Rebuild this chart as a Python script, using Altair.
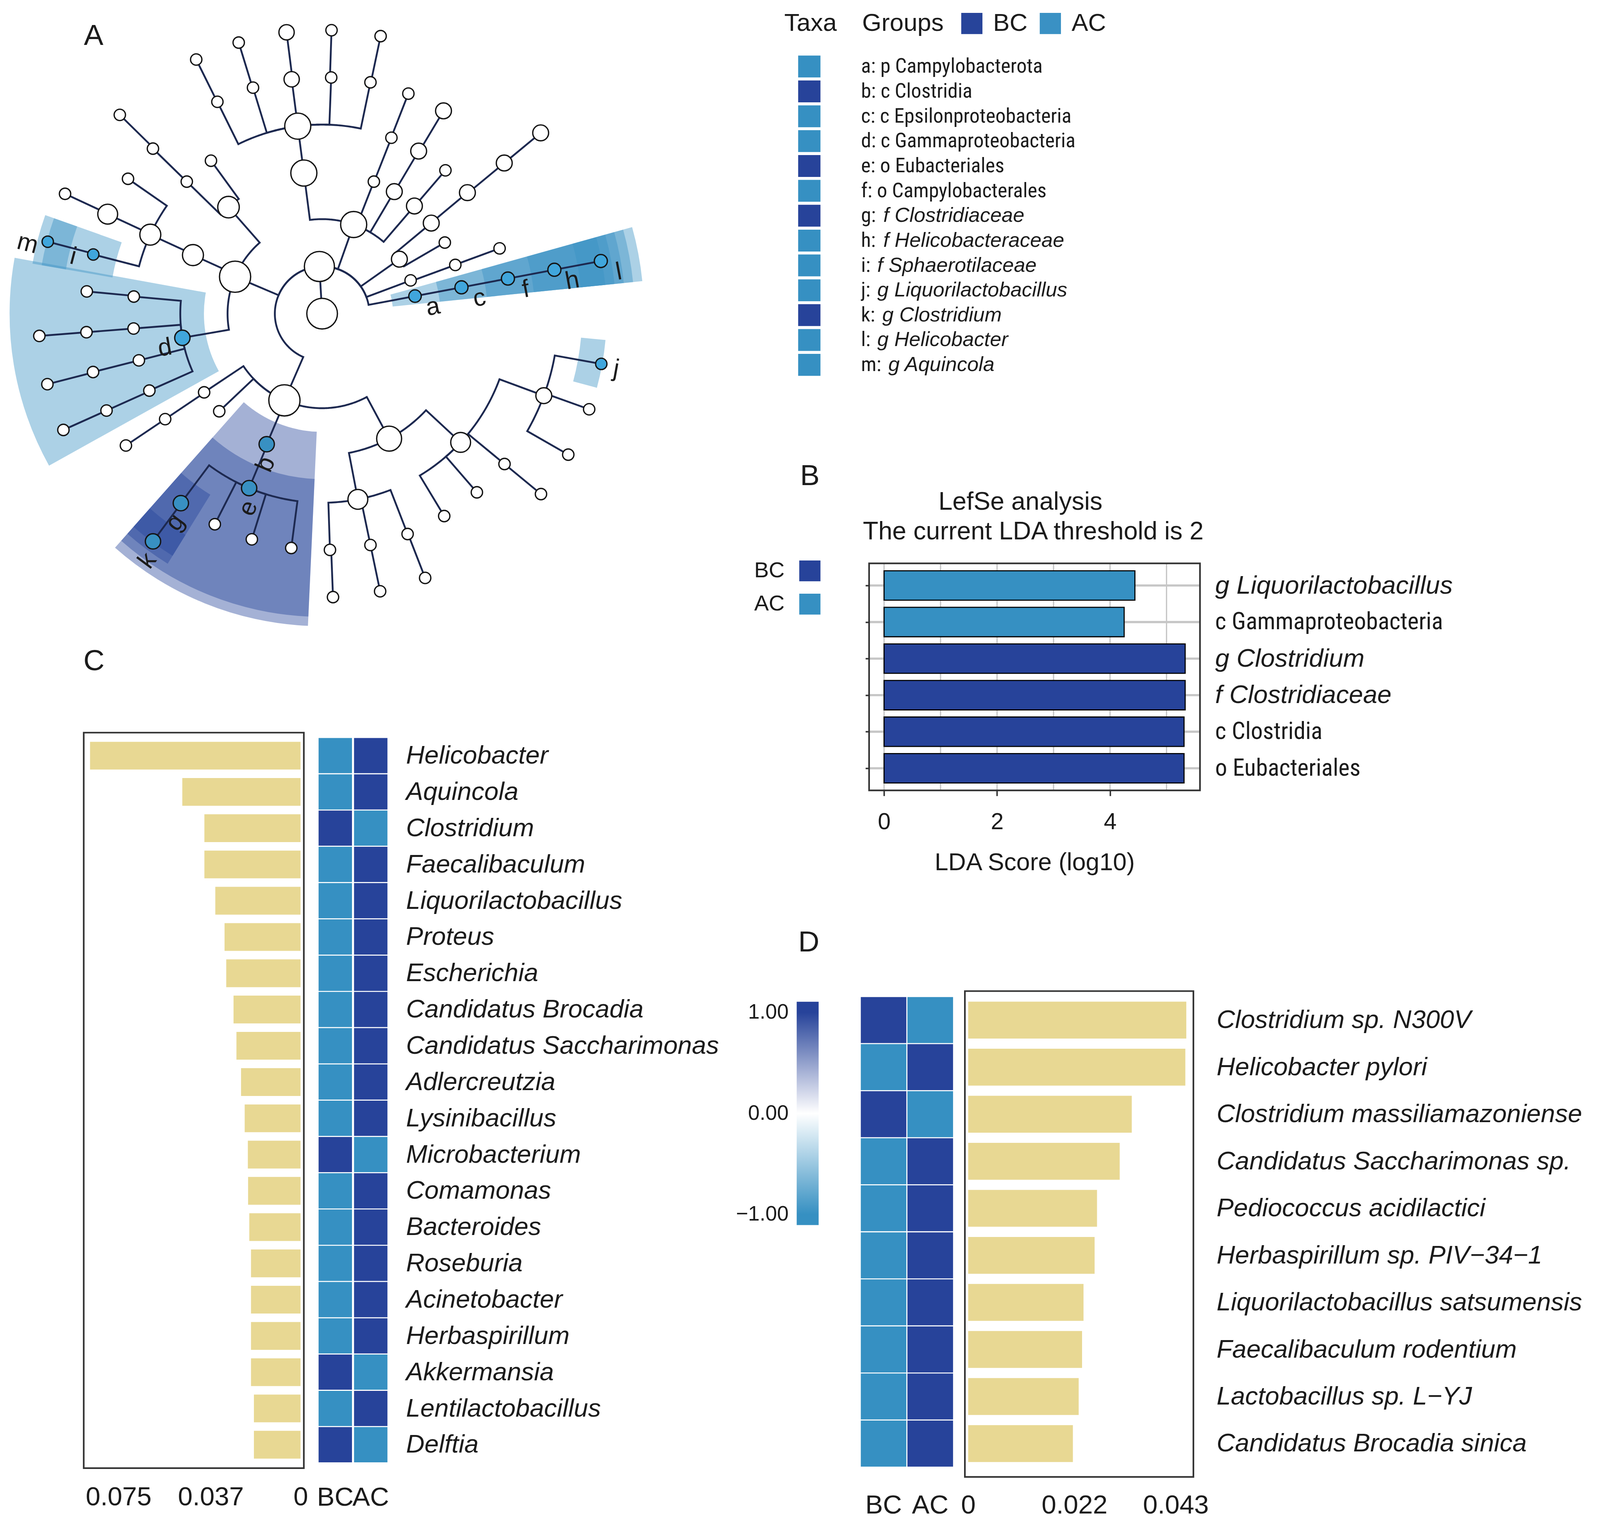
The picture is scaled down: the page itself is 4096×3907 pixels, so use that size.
import json
import math
import pandas as pd
import altair as alt

# ============================== DATA ==============================
# Panel A - cladogram. Parents precede children; angle in degrees (counter-clockwise from east).
node_id = ["root", "k1", "pA", "pProt", "pFirm", "p35", "p20", "a",
           "cA1", "cA2", "cA3", "cA4", "cP1", "cP2", "d", "cF1", "cF2", "b", "cF4", "c35a", "c35b", "c20", "c",
           "oA1", "oA2", "oA3", "oA4", "oP1a", "oP1b", "oP2", "oD1", "oD2", "oD3", "oD4", "oF1", "e", "oF4a", "oF4b",
           "o35", "o20", "f",
           "fA1a", "fA1b", "fA1c", "fA1d", "fA1e", "fA2", "fA3", "fP1", "fP2a", "fP2b", "i", "fD1", "fD2", "fD3",
           "fD4", "fF1", "g", "fE2", "fE3", "fE4", "fF4a1", "fF4a2", "fF4a3", "fF4b1", "fF4b2", "fF4b3", "fF4b4",
           "f35", "h",
           "gA1a", "gA1b", "gA1c", "gA1d", "gA1e", "gP1", "gP2b", "m", "gD2", "gD3", "gD4", "k", "gF4a1", "gF4a2",
           "gF4a3", "gF4b3", "gF4b4a", "gF4b4b", "j", "g35", "l"]
node_parent = ["", "root", "k1", "k1", "k1", "k1", "k1", "k1",
               "pA", "pA", "pA", "pA", "pProt", "pProt", "pProt", "pFirm", "pFirm", "pFirm", "pFirm", "p35", "p35",
               "p20", "a",
               "cA1", "cA2", "cA3", "cA4", "cP1", "cP1", "cP2", "d", "d", "d", "d", "cF1", "b", "cF4", "cF4",
               "c35b", "c20", "c",
               "oA1", "oA1", "oA1", "oA1", "oA1", "oA2", "oA3", "oP1b", "oP2", "oP2", "oP2", "oD1", "oD2", "oD3",
               "oD4", "oF1", "e", "e", "e", "e", "oF4a", "oF4a", "oF4a", "oF4b", "oF4b", "oF4b", "oF4b",
               "o35", "f",
               "fA1a", "fA1b", "fA1c", "fA1d", "fA1e", "fP1", "fP2b", "i", "fD2", "fD3", "fD4", "g", "fF4a1",
               "fF4a2", "fF4a3", "fF4b3", "fF4b4", "fF4b4", "fF4b4", "f35", "h"]
node_angle = [93.3, 93.3, 70.5, 157.0, 246.5, 35.2, 20.6, 10.7,
              97.4, 68.6, 59.4, 49.4, 131.3, 155.6, 189.8, 213.7, 223.5, 247.0, 298.2, 30.1, 39.7, 20.1, 10.7,
              97.4, 68.5, 59.3, 49.3, 126.0, 135.7, 155.3, 174.8, 184.5, 194.3, 204.0, 213.9, 247.3, 280.9, 317.1,
              39.8, 20.2, 10.7,
              78.2, 87.8, 97.4, 107.0, 116.3, 68.6, 59.1, 135.7, 145.2, 155.1, 165.5, 174.6, 184.5, 194.3,
              204.2, 213.9, 233.3, 243.0, 252.7, 262.5, 271.9, 281.8, 291.2, 301.1, 310.9, 320.5, 339.7,
              39.6, 10.7,
              78.1, 88.1, 97.2, 107.1, 116.35, 135.5, 155.0, 165.3, 184.5, 194.4, 204.2, 233.4, 272.2, 281.8,
              291.3, 320.5, 330.2, 340.3, 349.8, 39.6, 10.7]
node_abund = [2.7, 2.65, 2.3, 2.75, 2.75, 1.4, 1.0, 1.1,
              2.3, 1.0, 1.4, 1.4, 1.9, 1.85, 1.35, 1.0, 1.0, 1.35, 2.2, 1.0, 1.4, 1.0, 1.15,
              2.3, 1.0, 1.4, 1.0, 1.0, 1.0, 1.85, 1.0, 1.0, 1.0, 1.0, 1.0, 1.35, 1.75, 1.75, 1.4, 1.0, 1.15,
              1.0, 1.0, 1.35, 1.0, 1.0, 1.0, 1.4, 1.0, 1.0, 1.75, 1.0, 1.0, 1.0, 1.0, 1.0, 1.0, 1.35, 1.0, 1.0,
              1.0, 1.0, 1.0, 1.0, 1.0, 1.0, 1.0, 1.4, 1.4, 1.15,
              1.0, 1.0, 1.35, 1.0, 1.0, 1.0, 1.0, 1.0, 1.0, 1.0, 1.0, 1.35, 1.0, 1.0, 1.0, 1.0, 1.0, 1.0, 1.0,
              1.4, 1.15]

taxa_code = ["a", "b", "c", "d", "e", "f", "g", "h", "i", "j", "k", "l", "m"]
taxa_rank = ["p", "c", "c", "c", "o", "o", "f", "f", "f", "g", "g", "g", "g"]
taxa_name = ["Campylobacterota", "Clostridia", "Epsilonproteobacteria", "Gammaproteobacteria", "Eubacteriales",
             "Campylobacterales", "Clostridiaceae", "Helicobacteraceae", "Sphaerotilaceae", "Liquorilactobacillus",
             "Clostridium", "Helicobacter", "Aquincola"]
taxa_group = ["AC", "BC", "AC", "AC", "BC", "AC", "BC", "AC", "AC", "AC", "BC", "AC", "AC"]

# Panel B - LEfSe
lda_taxon = ["g Liquorilactobacillus", "c Gammaproteobacteria", "g Clostridium", "f Clostridiaceae",
             "c Clostridia", "o Eubacteriales"]
lda_group = ["AC", "AC", "BC", "BC", "BC", "BC"]
lda_score = [4.44, 4.25, 5.33, 5.33, 5.31, 5.31]
lda_ticks = [0, 2, 4]
lda_grid = [0, 1, 2, 3, 4, 5]

# Panel C - genus importance + z-score heatmap
genus_name = ["Helicobacter", "Aquincola", "Clostridium", "Faecalibaculum", "Liquorilactobacillus", "Proteus",
              "Escherichia", "Candidatus Brocadia", "Candidatus Saccharimonas", "Adlercreutzia", "Lysinibacillus",
              "Microbacterium", "Comamonas", "Bacteroides", "Roseburia", "Acinetobacter", "Herbaspirillum",
              "Akkermansia", "Lentilactobacillus", "Delftia"]
genus_importance = [0.0867, 0.0487, 0.0396, 0.0396, 0.0351, 0.0313, 0.0306, 0.0276, 0.0264, 0.0245, 0.0230,
                    0.0217, 0.0216, 0.0211, 0.0204, 0.0204, 0.0204, 0.0204, 0.0192, 0.0192]
genus_bc = [-1, -1, 1, -1, -1, -1, -1, -1, -1, -1, -1, 1, -1, -1, -1, -1, -1, 1, -1, 1]
genus_ac = [1, 1, -1, 1, 1, 1, 1, 1, 1, 1, 1, -1, 1, 1, 1, 1, 1, -1, 1, -1]
genus_ticks = [0.075, 0.037, 0]

# Panel D - species importance + z-score heatmap
species_name = ["Clostridium sp. N300V", "Helicobacter pylori", "Clostridium massiliamazoniense",
                "Candidatus Saccharimonas sp.", "Pediococcus acidilactici", "Herbaspirillum sp. PIV\u221234\u22121",
                "Liquorilactobacillus satsumensis", "Faecalibaculum rodentium", "Lactobacillus sp. L\u2212YJ",
                "Candidatus Brocadia sinica"]
species_importance = [0.0452, 0.0450, 0.0339, 0.0314, 0.0267, 0.0262, 0.0239, 0.0236, 0.0229, 0.0217]
species_bc = [1, -1, 1, -1, -1, -1, -1, -1, -1, -1]
species_ac = [-1, 1, -1, 1, 1, 1, 1, 1, 1, 1]
species_ticks = [0, 0.022, 0.043]
zscore_ticks = [-1, 0, 1]

# ============================== STYLE / LAYOUT ==============================
S = 0.936          # drawing scale versus the reference
OFF = 8.0          # page margin
W, H = 4080, 3890


def P(v):
    return v * S - OFF


FN = "Liberation Sans, Arial, Helvetica, sans-serif"
FN_N = "Roboto Condensed, Liberation Sans Narrow, Arial Narrow, Liberation Sans, sans-serif"
TXT = "#1b1b1b"
DARK = "#27439A"
LIGHT = "#3690C2"
SEC_BC = "#27449A"
SEC_AC = "#3A91C4"
HL_BC = "#3890C2"
HL_AC = "#40A6DC"
BAR = "#E8D893"
EDGE = "#1d2950"
BOX = "#333333"
GRID = "#c6c6c6"

units = []

# ============================== PANEL A ==============================
U = 129.3
CX, CY = 881.0, 858.0
pos = {n: ix for ix, n in enumerate(node_id)}
level = {}
children = {n: [] for n in node_id}
for n, p in zip(node_id, node_parent):
    level[n] = 0 if p == "" else level[p] + 1
    if p:
        children[p].append(n)


def leaves(n):
    if not children[n]:
        return [n]
    out = []
    for ch in children[n]:
        out += leaves(ch)
    return out


code_group = dict(zip(taxa_code, taxa_group))

erows = []
for n, p in zip(node_id, node_parent):
    if p == "":
        continue
    lp, ap = level[p], node_angle[pos[p]]
    lc, ac = level[n], node_angle[pos[n]]
    k = max(2, int(abs(ac - ap) / 0.5) + 2)
    o = 0
    for s in range(k):
        t = math.radians(ap + (ac - ap) * s / (k - 1))
        erows.append({"eid": n, "o": o, "x": lp * math.cos(t), "y": lp * math.sin(t)})
        o += 1
    t = math.radians(ac)
    erows.append({"eid": n, "o": o, "x": lc * math.cos(t), "y": lc * math.sin(t)})
edge_df = pd.DataFrame(erows)

nrows = []
for n in node_id:
    t = math.radians(node_angle[pos[n]])
    L = level[n]
    nrows.append({"id": n, "x": L * math.cos(t), "y": L * math.sin(t), "abund": node_abund[pos[n]],
                  "kind": code_group.get(n, "none")})
node_df = pd.DataFrame(nrows)

HALF = 4.9
srows, lrows = [], []
for code in taxa_code:
    L = level[code]
    angs = [node_angle[pos[x]] for x in leaves(code)]
    a0, a1 = min(angs) - HALF, max(angs) + HALF
    t0, t1 = 90 - a1, 90 - a0
    if t0 < 0:
        t0 += 360
        t1 += 360
    srows.append({"code": code, "grp": code_group[code], "t0": t0, "t1": t1,
                  "r_in": L - 0.5, "r_out": 6.02 + (6 - L) * 0.197, "cx": 0.0, "cy": 0.0})
    th = node_angle[pos[code]]
    r = math.radians(th)
    ux, uy = math.cos(r), math.sin(r)
    if ux > 0:
        tang = 0.3 if len(leaves(code)) == 1 and th < 90 else 0.05
        tx, ty, rr, ang = math.sin(r), -math.cos(r), L + 0.33, (360 - th) % 360
    else:
        tx, ty, tang, rr, ang = -math.sin(r), math.cos(r), 0.15, L + 0.4, (180 - th) % 360
    lrows.append({"code": code, "x": rr * ux + tang * tx, "y": rr * uy + tang * ty, "ang": ang})
sec_df = pd.DataFrame(srows)
lab_df = pd.DataFrame(lrows)


def txs():
    return alt.Scale(domain=[-7, 7], range=[P(CX - 7 * U), P(CX + 7 * U)], nice=False, zero=False)


def tys():
    return alt.Scale(domain=[-7, 7], range=[P(CY + 7 * U), P(CY - 7 * U)], nice=False, zero=False)


units.append(alt.Chart(sec_df).mark_arc(opacity=0.42).encode(
    x=alt.X("cx:Q", scale=txs(), axis=None),
    y=alt.Y("cy:Q", scale=tys(), axis=None),
    theta=alt.Theta("t0:Q", scale=alt.Scale(domain=[0, 360], range=[0, 2 * math.pi])),
    theta2="t1:Q",
    radius=alt.Radius("r_out:Q", scale=alt.Scale(type="linear", domain=[0, 7], range=[0, 7 * U * S], zero=True)),
    radius2="r_in:Q",
    color=alt.Color("grp:N", scale=alt.Scale(domain=["BC", "AC"], range=[SEC_BC, SEC_AC]),
                    legend=alt.Legend(title=None, orient="none", legendX=P(2624), legendY=P(30),
                                      direction="horizontal", symbolType="square", symbolSize=(58 * S) ** 2,
                                      symbolStrokeWidth=0, symbolOpacity=1, labelFont=FN, labelFontSize=68 * S,
                                      labelColor=TXT, labelOffset=24 * S, columnPadding=26, padding=0)),
))
units.append(alt.Chart(edge_df).mark_line(color=EDGE, strokeWidth=5.0 * S, strokeJoin="miter").encode(
    x=alt.X("x:Q", scale=txs(), axis=None),
    y=alt.Y("y:Q", scale=tys(), axis=None),
    detail="eid:N",
    order="o:Q",
))
units.append(alt.Chart(node_df).mark_circle(stroke="#141414", strokeWidth=3.6 * S, opacity=1).encode(
    x=alt.X("x:Q", scale=txs(), axis=None),
    y=alt.Y("y:Q", scale=tys(), axis=None),
    size=alt.Size("abund:Q", scale=alt.Scale(type="pow", exponent=2, domain=[0, 3],
                                             range=[0, (3 * 2 * 15.5 * S) ** 2]), legend=None),
    fill=alt.Fill("kind:N", scale=alt.Scale(domain=["none", "AC", "BC"], range=["white", HL_AC, HL_BC]),
                  legend=None),
))
units.append(alt.Chart(lab_df).mark_text(font=FN, fontSize=68 * S, color=TXT, align="center",
                                         baseline="middle").encode(
    x=alt.X("x:Q", scale=txs(), axis=None),
    y=alt.Y("y:Q", scale=tys(), axis=None),
    text="code:N",
    angle=alt.Angle("ang:Q", scale=None),
))


# ============================== REFERENCE-FRAME SCALES (legends / annotations) ==============================
def rxs():
    return alt.Scale(domain=[0, 4375], range=[P(0), P(4375)], nice=False, zero=False)


def rys():
    return alt.Scale(domain=[0, 4173], range=[P(0), P(4173)], nice=False, zero=False)


# ============================== TAXA LEGEND ==============================
ADV = {"a": 0.556, "b": 0.556, "c": 0.5, "d": 0.556, "e": 0.556, "f": 0.278, "g": 0.556, "h": 0.556,
       "i": 0.222, "j": 0.222, "k": 0.5, "l": 0.222, "m": 0.833}
TAXA_FS = 56
NF = 0.88
trows = []
for c, rk, nm, gp in zip(taxa_code, taxa_rank, taxa_name, taxa_group):
    ital = rk in ("f", "g")
    trows.append({"code": c, "grp": gp, "sx0": 2183, "sx1": 2244, "tx0": 2355,
                  "tx1": 2355 + (ADV[c] + 0.556) * NF * TAXA_FS + 6,
                  "plain": (c + ":") if ital else f"{c}: {rk} {nm}",
                  "ital": f"{rk} {nm}" if ital else "", "is_it": ital})
taxa_df = pd.DataFrame(trows)


def tby():
    return alt.Scale(domain=taxa_code, range=[P(148), P(148 + 13 * 68)], paddingInner=0.12, paddingOuter=0.06)


units.append(alt.Chart(taxa_df).mark_rect().encode(
    x=alt.X("sx0:Q", scale=rxs(), axis=None), x2="sx1:Q",
    y=alt.Y("code:N", scale=tby(), axis=None),
    color=alt.Color("grp:N", scale=alt.Scale(domain=["BC", "AC"], range=[DARK, LIGHT]), legend=None),
))
units.append(alt.Chart(taxa_df).mark_text(font=FN_N, fontSize=TAXA_FS * S, color=TXT, align="left",
                                          baseline="middle").encode(
    x=alt.X("tx0:Q", scale=rxs(), axis=None), y=alt.Y("code:N", scale=tby(), axis=None), text="plain:N"))
units.append(alt.Chart(taxa_df[taxa_df["is_it"]]).mark_text(font=FN, fontStyle="italic", fontSize=TAXA_FS * S,
                                                         color=TXT, align="left", baseline="middle").encode(
    x=alt.X("tx1:Q", scale=rxs(), axis=None), y=alt.Y("code:N", scale=tby(), axis=None), text="ital:N"))


# ============================== ANNOTATIONS ==============================
def ann_text(df, **kw):
    return alt.Chart(df).mark_text(color=TXT, **kw).encode(
        x=alt.X("x:Q", scale=rxs(), axis=None), y=alt.Y("y:Q", scale=rys(), axis=None), text="t:N")


letters = pd.DataFrame({"t": ["A", "B", "C", "D"], "x": [256, 2215, 257, 2212], "y": [123, 1327, 1833, 2603]})
titles = pd.DataFrame({"t": ["LefSe analysis", "The current LDA threshold is 2"], "x": [2791, 2826],
                       "y": [1394, 1475]})
headers = pd.DataFrame({"t": ["Taxa", "Groups"], "x": [2145, 2358], "y": [84.5, 84.5]})
bleg_t = pd.DataFrame({"t": ["BC", "AC"], "x": [2146, 2146], "y": [1561, 1652]})
bleg_s = pd.DataFrame({"g": ["BC", "AC"], "x0": [2186, 2186], "x1": [2244, 2244], "y0": [1533, 1624],
                       "y1": [1590, 1681]})
units.append(ann_text(letters, font=FN, fontSize=80 * S, align="center", baseline="alphabetic"))
units.append(ann_text(titles, font=FN, fontSize=69 * S, align="center", baseline="alphabetic"))
units.append(ann_text(headers, font=FN, fontSize=68 * S, align="left", baseline="alphabetic"))
units.append(ann_text(bleg_t, font=FN, fontSize=60 * S, align="right", baseline="middle"))
units.append(alt.Chart(bleg_s).mark_rect().encode(
    x=alt.X("x0:Q", scale=rxs(), axis=None), x2="x1:Q",
    y=alt.Y("y0:Q", scale=rys(), axis=None), y2="y1:Q",
    color=alt.Color("g:N", scale=alt.Scale(domain=["BC", "AC"], range=[DARK, LIGHT]), legend=None)))

# ============================== PANEL B ==============================
B_XL, B_XR = -0.265, 5.592
B_YT, B_YB = -0.605, 5.605


def bxs():
    return alt.Scale(domain=[B_XL, B_XR], range=[P(2377), P(3282)], nice=False, zero=False)


def bys():
    return alt.Scale(domain=[B_YT, B_YB], range=[P(1541), P(2162)], nice=False, zero=False)


lda_df = pd.DataFrame({"i": list(range(len(lda_taxon))), "taxon": lda_taxon, "grp": lda_group,
                       "score": lda_score})
lda_df["y0"] = lda_df["i"] - 0.4025
lda_df["y1"] = lda_df["i"] + 0.4025
lda_df["x0"] = 0.0
vg_df = pd.DataFrame({"v": lda_grid, "ya": B_YT, "yb": B_YB})
hg_df = pd.DataFrame({"i": list(range(len(lda_taxon))), "xa": B_XL, "xb": B_XR})
bbox_df = pd.DataFrame({"xa": [B_XL], "xb": [B_XR], "ya": [B_YT], "yb": [B_YB]})
lda_ital = [ix for ix, t in enumerate(lda_taxon) if t.split(" ")[0] in ("f", "g")]
ital_test = "indexof(%s, datum.value) >= 0" % json.dumps(lda_ital)

units.append(alt.Chart(vg_df).mark_rule(color=GRID, strokeWidth=3.5 * S).encode(
    x=alt.X("v:Q", scale=bxs(), axis=None), y=alt.Y("ya:Q", scale=bys(), axis=None), y2="yb:Q"))
units.append(alt.Chart(hg_df).mark_rule(color=GRID, strokeWidth=6 * S).encode(
    y=alt.Y("i:Q", scale=bys(), axis=None), x=alt.X("xa:Q", scale=bxs(), axis=None), x2="xb:Q"))
units.append(alt.Chart(lda_df).mark_rect(stroke="black", strokeWidth=3 * S).encode(
    x=alt.X("x0:Q", scale=bxs(),
            axis=alt.Axis(orient="bottom", offset=P(2162) - H, values=lda_ticks, title="LDA Score (log10)",
                          grid=False, domain=False, ticks=True, tickSize=15 * S, tickWidth=4 * S,
                          tickColor=BOX, labelFont=FN, labelFontSize=63 * S, labelColor=TXT, labelPadding=38,
                          labelFlush=False, labelOverlap=False, titleFont=FN, titleFontSize=67 * S,
                          titleFontWeight="normal", titleColor=TXT, titleY=(2380 - 2162) * S,
                          titleBaseline="alphabetic")),
    x2="score:Q",
    y=alt.Y("y0:Q", scale=bys(),
            axis=alt.Axis(orient="left", offset=-P(2377), values=list(range(len(lda_taxon))), labels=False,
                          ticks=True, tickSize=10 * S, tickWidth=4 * S, tickColor=BOX, domain=False,
                          grid=False, title=None)),
    y2="y1:Q",
    color=alt.Color("grp:N", scale=alt.Scale(domain=["BC", "AC"], range=[DARK, LIGHT]), legend=None),
))
units.append(alt.Chart(bbox_df).mark_rect(fillOpacity=0, stroke=BOX, strokeWidth=4.5 * S).encode(
    x=alt.X("xa:Q", scale=bxs(), axis=None), x2="xb:Q",
    y=alt.Y("ya:Q", scale=bys(),
            axis=alt.Axis(orient="right", offset=P(3282) - W, values=list(range(len(lda_taxon))),
                          labelExpr="%s[datum.value]" % json.dumps(lda_taxon, ensure_ascii=False),
                          ticks=False, tickSize=0, domain=False, grid=False, title=None, labelPadding=41 * S,
                          labelColor=TXT, labelAlign="left", labelLimit=3000, labelOverlap=False,
                          labelFontSize={"condition": {"test": ital_test, "value": 70 * S}, "value": 65.5 * S},
                          labelFont={"condition": {"test": ital_test, "value": FN}, "value": FN_N},
                          labelFontStyle={"condition": {"test": ital_test, "value": "italic"},
                                          "value": "normal"})),
    y2="yb:Q",
))

# ============================== PANEL C ==============================
C_XL, C_XR = 0.0893, -0.00136
C_YT, C_YB = -0.635, 19.647


def cbx():
    return alt.Scale(domain=[C_XR, C_XL], range=[P(229), P(831)], reverse=True, nice=False, zero=False)


def cys():
    return alt.Scale(domain=[C_YT, C_YB], range=[P(2004), P(4016)], nice=False, zero=False)


cb_df = pd.DataFrame({"i": list(range(len(genus_name))), "imp": genus_importance})
cb_df["y0"] = cb_df["i"] - 0.383
cb_df["y1"] = cb_df["i"] + 0.383
cb_df["zero"] = 0.0
ch_df = pd.DataFrame({"i": list(range(len(genus_name))) * 2,
                      "col": ["BC"] * len(genus_name) + ["AC"] * len(genus_name),
                      "z": genus_bc + genus_ac})
ch_df["y0"] = ch_df["i"] - 0.5
ch_df["y1"] = ch_df["i"] + 0.5
cbox_df = pd.DataFrame({"xa": [C_XL], "xb": [C_XR], "ya": [C_YT], "yb": [C_YB]})
zexpr = "datum.value == 0 ? '0' : format(datum.value, '.3f')"

units.append(alt.Chart(cb_df).mark_rect(color=BAR).encode(
    x=alt.X("imp:Q", scale=cbx(),
            axis=alt.Axis(orient="bottom", offset=P(4016) - H, values=genus_ticks, labelExpr=zexpr,
                          ticks=False, tickSize=0, domain=False, grid=False, title=None, labelFont=FN,
                          labelFontSize=72 * S, labelColor=TXT, labelPadding=42, labelFlush=False,
                          labelOverlap=False)),
    x2="zero:Q",
    y=alt.Y("y0:Q", scale=cys(), axis=None), y2="y1:Q",
))
units.append(alt.Chart(cbox_df).mark_rect(fillOpacity=0, stroke=BOX, strokeWidth=4.5 * S).encode(
    x=alt.X("xa:Q", scale=cbx(), axis=None), x2="xb:Q",
    y=alt.Y("ya:Q", scale=cys(), axis=None), y2="yb:Q"))
units.append(alt.Chart(ch_df).mark_rect(stroke="white", strokeWidth=2.7 * S).encode(
    x=alt.X("col:N", scale=alt.Scale(domain=["BC", "AC"], range=[P(870), P(1061)], paddingInner=0.03,
                                     paddingOuter=0),
            axis=alt.Axis(orient="bottom", offset=P(4000) - H, ticks=False, tickSize=0, domain=False,
                          grid=False, title=None, labelAngle=0, labelFont=FN, labelFontSize=72 * S,
                          labelColor=TXT, labelPadding=57)),
    y=alt.Y("y0:Q", scale=cys(),
            axis=alt.Axis(orient="right", offset=P(1061) - W, values=list(range(len(genus_name))),
                          labelExpr="%s[datum.value]" % json.dumps(genus_name, ensure_ascii=False),
                          ticks=False, tickSize=0, domain=False, grid=False, title=None,
                          labelPadding=49 * S, labelFont=FN, labelFontStyle="italic", labelFontSize=70 * S,
                          labelColor=TXT, labelAlign="left", labelLimit=3000, labelOverlap=False)),
    y2="y1:Q",
    color=alt.Color("z:Q", scale=alt.Scale(domain=[-1, 0, 1], range=[LIGHT, "white", DARK], interpolate="rgb"),
                    legend=None),
))

# ============================== PANEL D ==============================
D_XL, D_XR = -0.00068, 0.04667
D_YT, D_YB = -0.617, 9.71
Z_LO, Z_HI = -1.107, 1.107


def dbx():
    return alt.Scale(domain=[D_XL, D_XR], range=[P(2639), P(3264)], nice=False, zero=False)


def dys():
    return alt.Scale(domain=[D_YT, D_YB], range=[P(2711), P(4040)], nice=False, zero=False)


db_df = pd.DataFrame({"i": list(range(len(species_name))), "imp": species_importance})
db_df["y0"] = db_df["i"] - 0.392
db_df["y1"] = db_df["i"] + 0.392
db_df["zero"] = 0.0
dh_df = pd.DataFrame({"i": list(range(len(species_name))) * 2,
                      "col": ["BC"] * len(species_name) + ["AC"] * len(species_name),
                      "z": species_bc + species_ac})
dh_df["y0"] = dh_df["i"] - 0.5
dh_df["y1"] = dh_df["i"] + 0.5
dbox_df = pd.DataFrame({"xa": [D_XL], "xb": [D_XR], "ya": [D_YT], "yb": [D_YB]})
zl_df = pd.DataFrame({"z": zscore_ticks, "x": 2157,
                      "t": [("%.2f" % v).replace("-", "\u2212") for v in zscore_ticks]})

units.append(alt.Chart(db_df).mark_rect(color=BAR).encode(
    x=alt.X("zero:Q", scale=dbx(),
            axis=alt.Axis(orient="bottom", offset=P(4040) - H, values=species_ticks, labelExpr=zexpr,
                          ticks=False, tickSize=0, domain=False, grid=False, title=None, labelFont=FN,
                          labelFontSize=72 * S, labelColor=TXT, labelPadding=40, labelFlush=False,
                          labelOverlap=False)),
    x2="imp:Q",
    y=alt.Y("y0:Q", scale=dys(), axis=None), y2="y1:Q",
))
units.append(alt.Chart(dbox_df).mark_rect(fillOpacity=0, stroke=BOX, strokeWidth=4.5 * S).encode(
    x=alt.X("xa:Q", scale=dbx(), axis=None), x2="xb:Q",
    y=alt.Y("ya:Q", scale=dys(),
            axis=alt.Axis(orient="right", offset=P(3264) - W, values=list(range(len(species_name))),
                          labelExpr="%s[datum.value]" % json.dumps(species_name, ensure_ascii=False),
                          ticks=False, tickSize=0, domain=False, grid=False, title=None,
                          labelPadding=63 * S, labelFont=FN, labelFontStyle="italic", labelFontSize=70 * S,
                          labelColor=TXT, labelAlign="left", labelLimit=3000, labelOverlap=False)),
    y2="yb:Q"))
units.append(alt.Chart(dh_df).mark_rect(stroke="white", strokeWidth=2.7 * S).encode(
    x=alt.X("col:N", scale=alt.Scale(domain=["BC", "AC"], range=[P(2353), P(2608)], paddingInner=0.0,
                                     paddingOuter=0),
            axis=alt.Axis(orient="bottom", offset=P(4013) - H, ticks=False, tickSize=0, domain=False,
                          grid=False, title=None, labelAngle=0, labelFont=FN, labelFontSize=72 * S,
                          labelColor=TXT, labelPadding=65)),
    y=alt.Y("y0:Q", scale=dys(), axis=None),
    y2="y1:Q",
    color=alt.Color("z:Q",
                    scale=alt.Scale(domain=[Z_LO, -1, 0, 1, Z_HI], range=[LIGHT, LIGHT, "white", DARK, DARK],
                                    interpolate="rgb"),
                    legend=alt.Legend(orient="none", legendX=P(2179), legendY=P(2740), direction="vertical",
                                      gradientLength=611 * S, gradientThickness=60 * S, title=None,
                                      values=zscore_ticks, labelExpr="''", gradientStrokeWidth=0, padding=0)),
))
units.append(alt.Chart(zl_df).mark_text(font=FN, fontSize=57 * S, color=TXT, align="right",
                                        baseline="middle").encode(
    x=alt.X("x:Q", scale=rxs(), axis=None),
    y=alt.Y("z:Q", scale=alt.Scale(domain=[Z_LO, Z_HI], range=[P(3351), P(2740)], nice=False, zero=False),
            axis=None),
    text="t:N"))

# ============================== ASSEMBLY ==============================
chart = alt.layer(*units).resolve_scale(
    x="independent", y="independent", color="independent", fill="independent", size="independent"
).properties(
    width=W, height=H, padding=0, autosize=alt.AutoSizeParams(type="none"), background="white"
).configure_view(stroke="transparent")

chart.save("out.html", embed_options={"renderer": "svg", "actions": False})
